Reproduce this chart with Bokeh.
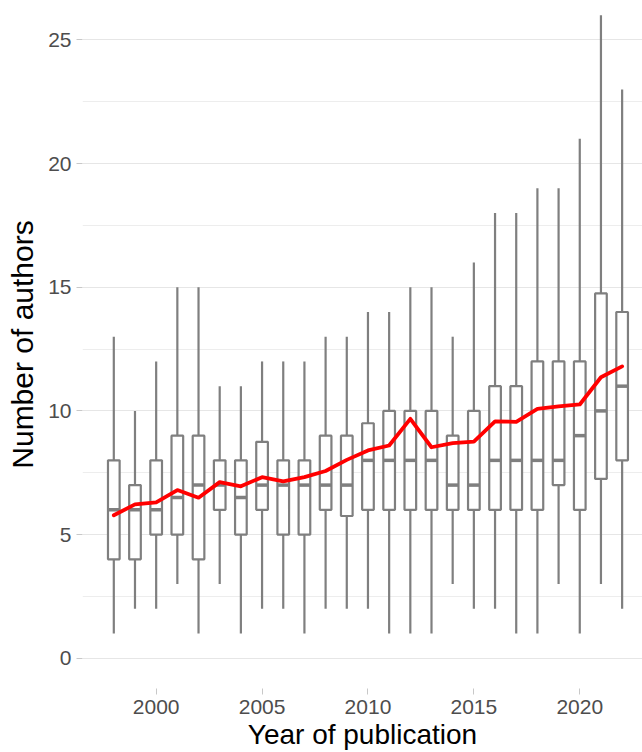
from bokeh.plotting import figure
from bokeh.models import Range1d, FixedTicker, ColumnDataSource
from bokeh.embed import file_html
from bokeh.resources import INLINE

# ---- data ----
years = list(range(1998, 2023))
whisker_low = [1, 2, 2, 3, 1, 3, 1, 2, 2, 1, 2, 2, 2, 1, 1, 1, 3, 2, 2, 1, 1, 3, 1, 3, 2]
q1 = [4, 4, 5, 5, 4, 6, 5, 6, 5, 5, 6, 5.75, 6, 6, 6, 6, 6, 6, 6, 6, 6, 7, 6, 7.25, 8]
median = [6, 6, 6, 6.5, 7, 7, 6.5, 7, 7, 7, 7, 7, 8, 8, 8, 8, 7, 7, 8, 8, 8, 8, 9, 10, 11]
q3 = [8, 7, 8, 9, 9, 8, 8, 8.75, 8, 8, 9, 9, 9.5, 10, 10, 10, 9, 10, 11, 11, 12, 12, 12, 14.75, 14]
whisker_high = [13, 10, 12, 15, 15, 11, 11, 12, 12, 12, 13, 13, 14, 14, 15, 15, 13, 16, 18, 18, 19, 19, 21, 26, 23]
mean = [5.78, 6.22, 6.30, 6.80, 6.49, 7.12, 6.95, 7.32, 7.15, 7.32, 7.57, 8.02, 8.40, 8.60,
        9.68, 8.53, 8.70, 8.76, 9.58, 9.56, 10.08, 10.18, 10.26, 11.36, 11.80]

x_ticks = [2000, 2005, 2010, 2015, 2020]
y_ticks = [0, 5, 10, 15, 20, 25]
y_minor = [2.5, 7.5, 12.5, 17.5, 22.5]

box_width = 0.55
half = box_width / 2

src = ColumnDataSource(dict(
    year=years, lo=whisker_low, q1=q1, med=median, q3=q3, hi=whisker_high,
    mx0=[y - half for y in years], mx1=[y + half for y in years],
))

GREY = "#7F7F7F"
FONT = "Liberation Sans"

p = figure(width=642, height=752, output_backend="svg", toolbar_location=None,
           x_range=Range1d(1996.522, 2022.962), y_range=Range1d(-1.225, 26.595),
           min_border_left=82, min_border_right=0, min_border_top=0, min_border_bottom=64)
p.outline_line_color = None
p.background_fill_color = "white"
p.border_fill_color = "white"

# whiskers
p.segment(x0="year", y0="lo", x1="year", y1="hi", source=src, line_color=GREY, line_width=2.2)
# boxes
p.vbar(x="year", width=box_width, bottom="q1", top="q3", source=src,
       fill_color="white", line_color=GREY, line_width=2.2)
# medians
p.segment(x0="mx0", y0="med", x1="mx1", y1="med", source=src, line_color=GREY, line_width=3.5)
# mean line
p.line(years, mean, line_color="#FF0000", line_width=3.8, line_join="round", line_cap="round")

# axes
p.xaxis.ticker = FixedTicker(ticks=x_ticks)
p.yaxis.ticker = FixedTicker(ticks=y_ticks, minor_ticks=y_minor)
for ax in (p.xaxis[0], p.yaxis[0]):
    ax.axis_line_color = None
    ax.major_tick_line_color = "#C8C8C8"
    ax.major_tick_out = 6
    ax.major_tick_in = 0
    ax.minor_tick_out = 0
    ax.minor_tick_in = 0
    ax.major_label_text_font = FONT
    ax.major_label_text_font_size = "21px"
    ax.major_label_text_color = "#4D4D4D"
    ax.axis_label_text_font = FONT
    ax.axis_label_text_font_style = "normal"
    ax.axis_label_text_color = "#000000"

p.xaxis.axis_label = "Year of publication"
p.xaxis.axis_label_text_font_size = "28px"
p.xaxis.major_label_standoff = 5
p.xaxis.axis_label_standoff = 2

p.yaxis.axis_label = "Number of authors"
p.yaxis.axis_label_text_font_size = "30px"
p.yaxis.major_label_standoff = 5
p.yaxis.axis_label_standoff = 6

p.xgrid.grid_line_color = None
p.ygrid.grid_line_color = "#E6E6E6"
p.ygrid.grid_line_width = 1.2
p.ygrid.minor_grid_line_color = "#EDEDED"
p.ygrid.minor_grid_line_width = 1

open("out.html", "w").write(file_html(p, INLINE))
